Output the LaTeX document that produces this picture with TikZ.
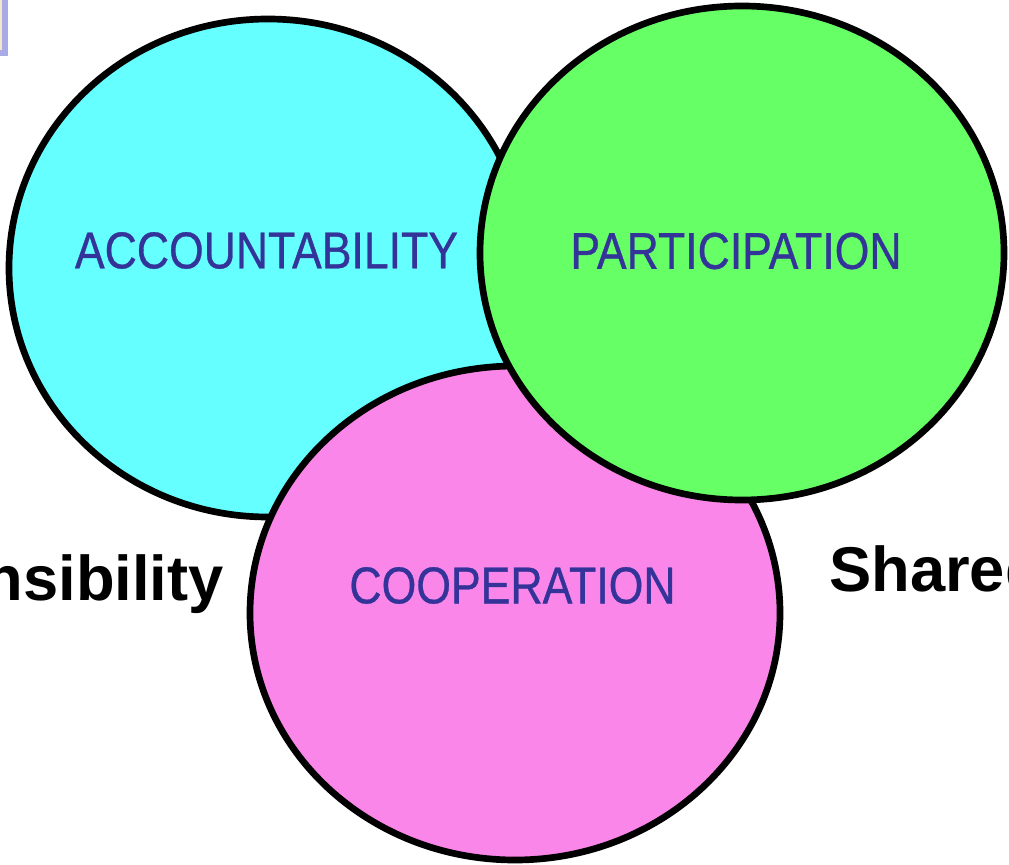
\documentclass[tikz,border=0pt]{standalone}
\usepackage{fontspec}
\usepackage{tikz}
\usetikzlibrary{shapes.geometric}
\newfontfamily\narrowsans[FakeStretch=0.86, FakeBold=0.6]{Liberation Sans}
\newfontfamily\labelsans{Liberation Sans}
\definecolor{vcyan}{HTML}{66FFFF}
\definecolor{vgreen}{HTML}{66FF66}
\definecolor{vpink}{HTML}{F986E8}
\definecolor{vtext}{HTML}{333399}
\definecolor{vlav}{HTML}{AAAAE6}
\definecolor{vbeige}{HTML}{F5E6C8}

\begin{document}
\begin{tikzpicture}[
      ring/.style={ellipse, draw=black, line width=3.8pt, inner sep=0pt},
      word/.style={text=vtext, font=\narrowsans\fontsize{29.5}{30}\selectfont, inner sep=0pt},
      side/.style={text=black, font=\labelsans\bfseries\fontsize{36}{40}\selectfont, inner sep=0pt}]
      \useasboundingbox (0,0) rectangle (20.18,-17.30);
      \clip (0,0) rectangle (20.18,-17.30);

      % frame corner in the top left
      \draw[vlav, fill=vbeige, line width=3.4pt] (-1,1) rectangle (0.10,-1.06);

      % three overlapping circles
      \node[ring, fill=vcyan, minimum width=10.36cm, minimum height=9.96cm] (acct) at (5.36,-5.36) {};
      \node[ring, fill=vpink, minimum width=10.60cm, minimum height=9.88cm] (coop) at (10.30,-12.26) {};
      \node[ring, fill=vgreen, minimum width=10.48cm, minimum height=9.88cm] (part) at (14.84,-5.06) {};

      \node[word] (acctlbl) at (5.33,-5.01) {ACCOUNTABILITY};
      \node[word] (partlbl) at (14.72,-5.02) {PARTICIPATION};
      \node[word] (cooplbl) at (10.25,-11.71) {COOPERATION};

      \node[side, anchor=base east] (resp) at (4.48,-12.00) {Responsibility};
      \node[side, anchor=base west] (shared) at (16.58,-11.82) {Shared};
    \end{tikzpicture}
\end{document}
